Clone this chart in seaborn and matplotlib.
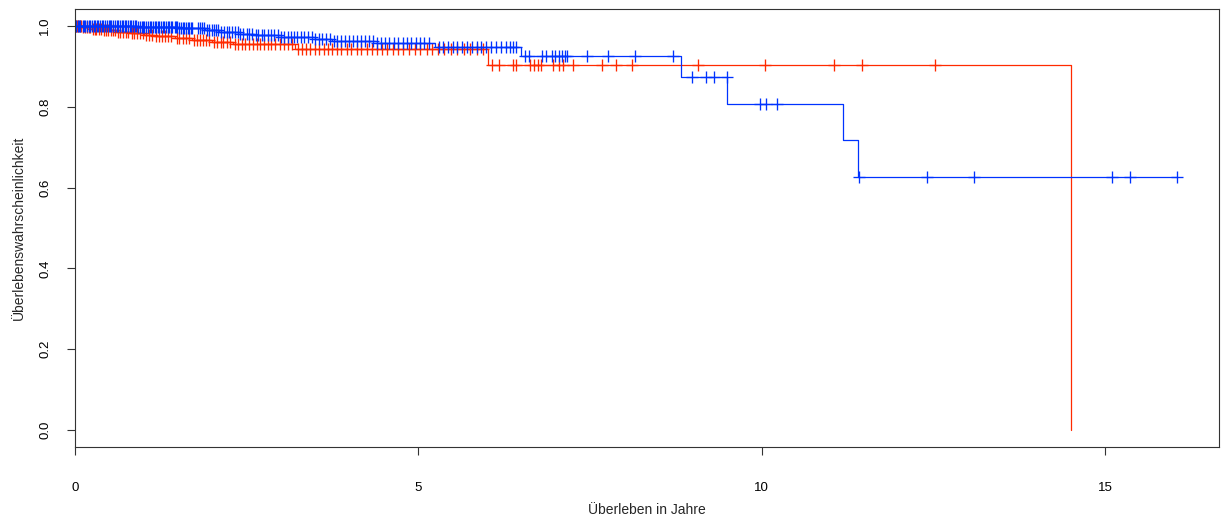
import numpy as np
import pandas as pd
import matplotlib
matplotlib.use("Agg")
import matplotlib.pyplot as plt
import seaborn as sns

# Kaplan-Meier steps (time in years, survival after the step)
red_time = [0.0, 0.10, 0.25, 0.40, 0.60, 0.80, 1.00, 1.15, 1.45, 1.70, 2.00, 2.30, 3.20, 6.01, 14.51]
red_surv = [1.0, 0.997, 0.993, 0.990, 0.986, 0.982, 0.977, 0.974, 0.970, 0.965, 0.960, 0.955, 0.942, 0.903, 0.0]

blue_time = [0.0, 0.90, 1.50, 1.90, 2.10, 2.40, 2.60, 3.00, 3.50, 3.75, 4.40, 5.25, 6.50, 8.82, 9.50, 11.18, 11.41, 16.05]
blue_surv = [1.0, 0.998, 0.995, 0.991, 0.986, 0.981, 0.977, 0.972, 0.967, 0.963, 0.957, 0.947, 0.926, 0.874, 0.808, 0.717, 0.627, 0.627]

# censored observations
red_censor = [0.01, 0.03, 0.05, 0.07, 0.09, 0.12, 0.14, 0.17, 0.20, 0.22, 0.26, 0.29, 0.31, 0.35, 0.38,
              0.42, 0.45, 0.48, 0.52, 0.55, 0.58, 0.63, 0.66, 0.70, 0.74, 0.77, 0.83, 0.86, 0.90, 0.95,
              0.99, 1.04, 1.08, 1.12, 1.18, 1.22, 1.27, 1.31, 1.36, 1.40, 1.48, 1.52, 1.57, 1.61, 1.66,
              1.73, 1.77, 1.82, 1.86, 1.91, 1.95, 2.03, 2.07, 2.12, 2.16, 2.21, 2.26, 2.33, 2.38, 2.43,
              2.48, 2.53, 2.59, 2.65, 2.70, 2.76, 2.81, 2.86, 2.92, 2.98, 3.04, 3.10, 3.16, 3.25, 3.30,
              3.36, 3.43, 3.49, 3.55, 3.62, 3.68, 3.75, 3.81, 3.88, 3.96, 4.02, 4.10, 4.17, 4.25, 4.32,
              4.40, 4.47, 4.55, 4.63, 4.70, 4.78, 4.86, 4.95, 5.03, 5.12, 5.20, 5.29, 5.38, 5.47, 5.57,
              5.66, 5.75, 5.85, 5.94,
              6.07, 6.18, 6.38, 6.43, 6.63, 6.69, 6.74, 6.78, 6.96, 7.05, 7.10, 7.26, 7.68, 7.88, 8.11,
              9.08, 10.05, 11.06, 11.46, 12.53]

blue_censor = [0.02, 0.04, 0.06, 0.08, 0.11, 0.13, 0.15, 0.18, 0.20, 0.22, 0.25, 0.27, 0.29, 0.32, 0.34,
               0.37, 0.39, 0.41, 0.44, 0.46, 0.49, 0.51, 0.53, 0.56, 0.58, 0.61, 0.63, 0.65, 0.68, 0.70,
               0.73, 0.75, 0.77, 0.80, 0.82, 0.85, 0.87, 0.89, 0.92, 0.94, 0.97, 0.99, 1.01, 1.04, 1.06,
               1.09, 1.11, 1.13, 1.16, 1.18, 1.21, 1.23, 1.25, 1.28, 1.30, 1.33, 1.35, 1.37, 1.40, 1.42,
               1.45, 1.47, 1.49, 1.52, 1.54, 1.57, 1.59, 1.61, 1.64, 1.66, 1.69, 1.71, 1.79, 1.82, 1.85,
               1.88, 1.92, 1.95, 1.99, 2.02, 2.06, 2.09, 2.13, 2.17, 2.21, 2.25, 2.29, 2.33, 2.37, 2.41,
               2.45, 2.50, 2.54, 2.58, 2.63, 2.67, 2.72, 2.76, 2.81, 2.86, 2.90, 2.95, 3.00, 3.05, 3.10,
               3.14, 3.19, 3.24, 3.29, 3.34, 3.39, 3.45, 3.50, 3.55, 3.60, 3.66, 3.71, 3.77, 3.82, 3.88,
               3.93, 3.99, 4.05, 4.10, 4.16, 4.22, 4.28, 4.34, 4.40, 4.46, 4.52, 4.58, 4.64, 4.70, 4.77,
               4.83, 4.89, 4.96, 5.02, 5.08, 5.15, 5.30, 5.36, 5.43, 5.50, 5.57, 5.64, 5.71, 5.78, 5.85,
               5.92, 5.99, 6.06, 6.13, 6.20, 6.27, 6.34, 6.38, 6.42,
               6.55, 6.61, 6.80, 6.86, 6.94, 6.99, 7.05, 7.09, 7.13, 7.16, 7.45, 7.76, 8.15, 8.71,
               8.99, 9.19, 9.31, 9.49, 9.98, 10.07, 10.23,
               11.42, 12.41, 13.09, 15.10, 15.37, 16.05]

red_col = "#ff2a00"
blue_col = "#0033ff"


def surv_at(times, surv, t):
    idx = np.searchsorted(times, t, side="right") - 1
    return np.asarray(surv)[idx]


sns.set_style("white")
plt.rcParams["font.family"] = ["Liberation Sans", "DejaVu Sans"]

fig = plt.figure(figsize=(12.23, 5.18), dpi=100)
ax = fig.add_axes([0.0613, 0.1371, 0.9354, 0.8455])

curves = [(red_time, red_surv, red_censor, red_col), (blue_time, blue_surv, blue_censor, blue_col)]
for t, s, c, col in curves:
    df = pd.DataFrame({"time": t, "surv": s})
    sns.lineplot(data=df, x="time", y="surv", drawstyle="steps-post", color=col,
                 linewidth=0.9, estimator=None, sort=False, ax=ax)
    cy = surv_at(t, s, c)
    ax.plot(c, cy, linestyle="none", marker="+", markersize=8.5, markeredgewidth=0.95, color=col)

ax.set_xlim(0, 16.66)
ax.set_ylim(-0.042, 1.042)
ax.set_xticks([0, 5, 10, 15])
ax.set_yticks([0.0, 0.2, 0.4, 0.6, 0.8, 1.0])
ax.set_yticklabels(["0.0", "0.2", "0.4", "0.6", "0.8", "1.0"], rotation=90, va="center")
ax.tick_params(direction="out", length=6, width=0.8, colors="#333333", labelsize=9.5,
               bottom=True, left=True)
ax.tick_params(axis="x", labelcolor="black", pad=19)
ax.tick_params(axis="y", labelcolor="black", pad=11)
for sp in ax.spines.values():
    sp.set_color("#333333")
    sp.set_linewidth(0.8)

ax.set_xlabel("Überleben in Jahre", fontsize=10, labelpad=7)
ax.set_ylabel("Überlebenswahrscheinlichkeit", fontsize=10, labelpad=10)

fig.savefig("out.png", dpi=100)
